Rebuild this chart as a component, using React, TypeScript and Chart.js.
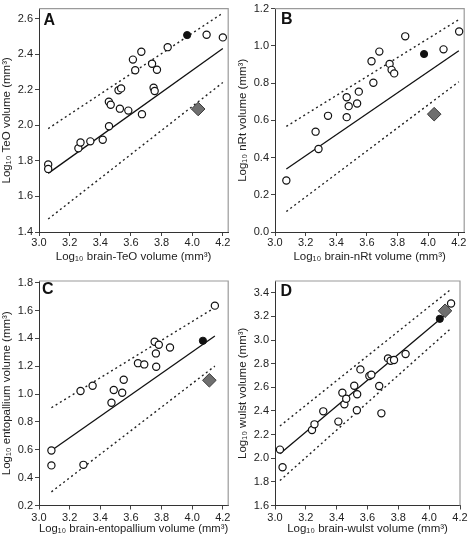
import React, { useEffect, useRef } from 'react';
import { Chart, registerables } from 'chart.js';
Chart.register(...registerables);

const FONT = "'Liberation Sans', Arial, Helvetica, sans-serif";

// ---------- shared tick labels ----------
const xTickValues = [3.0, 3.2, 3.4, 3.6, 3.8, 4.0, 4.2];
const aYTickValues = [1.4, 1.6, 1.8, 2.0, 2.2, 2.4, 2.6];
const bYTickValues = [0.0, 0.2, 0.4, 0.6, 0.8, 1.0, 1.2];
const cYTickValues = [0.2, 0.4, 0.6, 0.8, 1.0, 1.2, 1.4, 1.6, 1.8];
const dYTickValues = [1.6, 1.8, 2.0, 2.2, 2.4, 2.6, 2.8, 3.0, 3.2, 3.4];

// ---------- Panel A (TeO) ----------
const aOpenX = [3.06, 3.06, 3.257, 3.271, 3.335, 3.416, 3.457, 3.456, 3.468, 3.528, 3.583, 3.672, 3.519, 3.536, 3.613, 3.628, 3.668, 3.738, 3.77, 3.748, 3.755, 3.84, 4.094, 4.2];
const aOpenY = [1.78, 1.755, 1.871, 1.904, 1.91, 1.919, 1.995, 2.133, 2.116, 2.094, 2.083, 2.063, 2.198, 2.208, 2.37, 2.31, 2.414, 2.347, 2.313, 2.212, 2.193, 2.44, 2.51, 2.495];
const aFilledX = [3.967];
const aFilledY = [2.508];
const aDiamondX = [4.039];
const aDiamondY = [2.092];
const aFitX = [3.06, 4.2];
const aFitY = [1.73, 2.433];
const aUpperY = [1.982, 2.632];
const aLowerY = [1.473, 2.241];

// ---------- Panel B (nRt) ----------
const bOpenX = [3.074, 3.265, 3.284, 3.346, 3.468, 3.468, 3.481, 3.536, 3.547, 3.63, 3.642, 3.681, 3.748, 3.761, 3.778, 3.85, 4.1, 4.202];
const bOpenY = [0.277, 0.539, 0.446, 0.624, 0.617, 0.724, 0.676, 0.69, 0.754, 0.917, 0.802, 0.969, 0.903, 0.871, 0.852, 1.051, 0.981, 1.077];
const bFilledX = [3.973];
const bFilledY = [0.956];
const bDiamondX = [4.039];
const bDiamondY = [0.633];
const bFitX = [3.074, 4.2];
const bFitY = [0.338, 0.974];
const bUpperY = [0.567, 1.141];
const bLowerY = [0.11, 0.807];

// ---------- Panel C (entopallium) ----------
const cOpenX = [3.081, 3.081, 3.29, 3.271, 3.35, 3.473, 3.488, 3.543, 3.553, 3.646, 3.687, 3.755, 3.763, 3.782, 3.765, 3.855, 4.148];
const cOpenY = [0.595, 0.488, 0.492, 1.022, 1.06, 0.938, 1.029, 1.01, 1.103, 1.222, 1.213, 1.376, 1.292, 1.354, 1.196, 1.334, 1.635];
const cFilledX = [4.07];
const cFilledY = [1.383];
const cDiamondX = [4.112];
const cDiamondY = [1.099];
const cFitX = [3.081, 4.148];
const cFitY = [0.595, 1.417];
const cUpperY = [0.902, 1.621];
const cLowerY = [0.298, 1.201];

// ---------- Panel D (wulst) ----------
const dOpenX = [3.032, 3.049, 3.24, 3.256, 3.313, 3.411, 3.437, 3.45, 3.462, 3.514, 3.533, 3.531, 3.554, 3.612, 3.625, 3.676, 3.69, 3.733, 3.75, 3.772, 3.847, 4.142];
const dOpenY = [2.073, 1.924, 2.239, 2.287, 2.397, 2.31, 2.555, 2.456, 2.504, 2.614, 2.541, 2.406, 2.752, 2.696, 2.707, 2.611, 2.38, 2.845, 2.825, 2.831, 2.882, 3.31];
const dFilledX = [4.069];
const dFilledY = [3.18];
const dDiamondX = [4.103];
const dDiamondY = [3.248];
const dFitX = [3.032, 4.142];
const dFitY = [2.037, 3.255];
const dUpperY = [2.273, 3.431];
const dLowerY = [1.811, 3.1];

type Panel = {
  letter: string;
  letterX: number;
  letterY: number;
  xTitle: string;
  yTitle: string;
  openX: number[]; openY: number[];
  filledX: number[]; filledY: number[];
  diamondX: number[]; diamondY: number[];
  fitX: number[]; fitY: number[]; upperY: number[]; lowerY: number[];
  xMax: number; yMin: number; yMax: number; yTicks: number[];
  left: number; top: number; width: number; height: number;
  padTop: number; padRight: number; xHeight: number;
  xLabelPad: number; xTitlePad: number;
};

const panels: Panel[] = [
  {
    letter: 'A', letterX: 43.5, letterY: 24.5,
    xTitle: 'Log\u2081\u2080 brain-TeO volume (mm\u00B3)', yTitle: 'Log\u2081\u2080 TeO volume (mm\u00B3)',
    openX: aOpenX, openY: aOpenY, filledX: aFilledX, filledY: aFilledY, diamondX: aDiamondX, diamondY: aDiamondY,
    fitX: aFitX, fitY: aFitY, upperY: aUpperY, lowerY: aLowerY,
    xMax: 4.235, yMin: 1.4, yMax: 2.657, yTicks: aYTickValues,
    left: 0, top: 0, width: 236, height: 270, padTop: 7, padRight: 2.5, xHeight: 38, xLabelPad: 0, xTitlePad: 6,
  },
  {
    letter: 'B', letterX: 45, letterY: 24,
    xTitle: 'Log\u2081\u2080 brain-nRt volume (mm\u00B3)', yTitle: 'Log\u2081\u2080 nRt volume (mm\u00B3)',
    openX: bOpenX, openY: bOpenY, filledX: bFilledX, filledY: bFilledY, diamondX: bDiamondX, diamondY: bDiamondY,
    fitX: bFitX, fitY: bFitY, upperY: bUpperY, lowerY: bLowerY,
    xMax: 4.235, yMin: 0, yMax: 1.2, yTicks: bYTickValues,
    left: 236, top: 0, width: 236, height: 270, padTop: 7, padRight: 2.5, xHeight: 38, xLabelPad: 0, xTitlePad: 6,
  },
  {
    letter: 'C', letterX: 42, letterY: 23.5,
    xTitle: 'Log\u2081\u2080 brain-entopallium volume (mm\u00B3)', yTitle: 'Log\u2081\u2080 entopallium volume (mm\u00B3)',
    openX: cOpenX, openY: cOpenY, filledX: cFilledX, filledY: cFilledY, diamondX: cDiamondX, diamondY: cDiamondY,
    fitX: cFitX, fitY: cFitY, upperY: cUpperY, lowerY: cLowerY,
    xMax: 4.235, yMin: 0.2, yMax: 1.812, yTicks: cYTickValues,
    left: 0, top: 270, width: 236, height: 271, padTop: 11, padRight: 2.5, xHeight: 35.5, xLabelPad: 1.5, xTitlePad: 5.5,
  },
  {
    letter: 'D', letterX: 44.5, letterY: 25.5,
    xTitle: 'Log\u2081\u2080 brain-wulst volume (mm\u00B3)', yTitle: 'Log\u2081\u2080 wulst volume (mm\u00B3)',
    openX: dOpenX, openY: dOpenY, filledX: dFilledX, filledY: dFilledY, diamondX: dDiamondX, diamondY: dDiamondY,
    fitX: dFitX, fitY: dFitY, upperY: dUpperY, lowerY: dLowerY,
    xMax: 4.2, yMin: 1.6, yMax: 3.5, yTicks: dYTickValues,
    left: 236, top: 270, width: 236, height: 271, padTop: 11, padRight: 12, xHeight: 35.5, xLabelPad: 1.5, xTitlePad: 5.5,
  },
];

const zip = (xs: number[], ys: number[]) => xs.map((x, i) => ({ x, y: ys[i] }));

function makeChart(canvas: HTMLCanvasElement, p: Panel) {
  const framePlugin = {
    id: 'frame',
    beforeDatasetsDraw(chart: any) {
      const { ctx, chartArea: a } = chart;
      ctx.save();
      ctx.strokeStyle = '#9a9a9a';
      ctx.lineWidth = 1.2;
      ctx.beginPath();
      ctx.moveTo(a.left, a.top);
      ctx.lineTo(a.right, a.top);
      ctx.lineTo(a.right, a.bottom);
      ctx.stroke();
      ctx.restore();
    },
    afterDraw(chart: any) {
      const { ctx } = chart;
      ctx.save();
      ctx.fillStyle = '#111';
      ctx.font = `bold 16px ${FONT}`;
      ctx.textAlign = 'left';
      ctx.textBaseline = 'alphabetic';
      ctx.fillText(p.letter, p.letterX, p.letterY);
      ctx.restore();
    },
  };

  const tickFont = { family: FONT, size: 11 };
  const titleFont = { family: FONT, size: 11.5 };
  const lineDs = (ys: number[], dashed: boolean) => ({
    data: zip(p.fitX, ys),
    showLine: true,
    borderColor: dashed ? '#222' : '#111',
    borderWidth: dashed ? 1.4 : 1.3,
    borderDash: dashed ? [2, 3] : [],
    pointRadius: 0,
    pointHoverRadius: 0,
    order: 5,
  });

  return new Chart(canvas, {
    type: 'scatter',
    data: {
      datasets: [
        lineDs(p.fitY, false),
        lineDs(p.upperY, true),
        lineDs(p.lowerY, true),
        {
          data: zip(p.openX, p.openY),
          pointRadius: 3.6,
          pointBackgroundColor: '#ffffff',
          pointBorderColor: '#111',
          pointBorderWidth: 1.2,
          clip: false,
          order: 2,
        },
        {
          data: zip(p.filledX, p.filledY),
          pointRadius: 3.6,
          pointBackgroundColor: '#111',
          pointBorderColor: '#111',
          pointBorderWidth: 1,
          clip: false,
          order: 1,
        },
        {
          data: zip(p.diamondX, p.diamondY),
          pointStyle: 'rectRot',
          pointRadius: 6.8,
          pointBackgroundColor: '#6f6f6f',
          pointBorderColor: '#3a3a3a',
          pointBorderWidth: 1,
          clip: false,
          order: 0,
        },
      ],
    } as any,
    options: {
      animation: false,
      responsive: false,
      maintainAspectRatio: false,
      events: [],
      layout: { padding: { top: p.padTop, right: p.padRight, left: 0, bottom: 0 } },
      plugins: { legend: { display: false }, tooltip: { enabled: false } },
      scales: {
        x: {
          type: 'linear',
          min: 3.0,
          max: p.xMax,
          afterBuildTicks: (ax: any) => { ax.ticks = xTickValues.map((v) => ({ value: v })); },
          afterFit: (ax: any) => { ax.height = p.xHeight; },
          ticks: {
            autoSkip: false, maxRotation: 0, padding: p.xLabelPad, color: '#222', font: tickFont,
            callback: (v: any) => Number(v).toFixed(1),
          },
          grid: { drawOnChartArea: false, drawTicks: true, tickLength: 4, color: '#444', tickColor: '#444' },
          border: { display: true, color: '#333', width: 1 },
          title: { display: true, text: p.xTitle, color: '#222', font: titleFont, padding: { top: 0, bottom: p.xTitlePad } },
        },
        y: {
          type: 'linear',
          min: p.yMin,
          max: p.yMax,
          afterBuildTicks: (ax: any) => { ax.ticks = p.yTicks.map((v) => ({ value: v })); },
          afterFit: (ax: any) => { ax.width = 39; },
          ticks: {
            autoSkip: false, padding: 2, color: '#222', font: tickFont,
            callback: (v: any) => Number(v).toFixed(1),
          },
          grid: { drawOnChartArea: false, drawTicks: true, tickLength: 4, color: '#444', tickColor: '#444' },
          border: { display: true, color: '#333', width: 1 },
          title: { display: true, text: p.yTitle, color: '#222', font: titleFont, padding: { top: 0, bottom: 0 } },
        },
      },
    } as any,
    plugins: [framePlugin],
  });
}

function PanelChart({ p }: { p: Panel }) {
  const ref = useRef<HTMLCanvasElement | null>(null);
  useEffect(() => {
    if (!ref.current) return;
    const chart = makeChart(ref.current, p);
    return () => chart.destroy();
  }, [p]);
  return (
    <canvas
      ref={ref}
      width={p.width}
      height={p.height}
      style={{ position: 'absolute', left: p.left, top: p.top, width: p.width, height: p.height, display: 'block' }}
    />
  );
}

export default function App() {
  return (
    <div style={{ position: 'absolute', left: 0, top: 0, width: 472, height: 541, background: '#fff' }}>
      {panels.map((p) => (
        <PanelChart key={p.letter} p={p} />
      ))}
    </div>
  );
}
